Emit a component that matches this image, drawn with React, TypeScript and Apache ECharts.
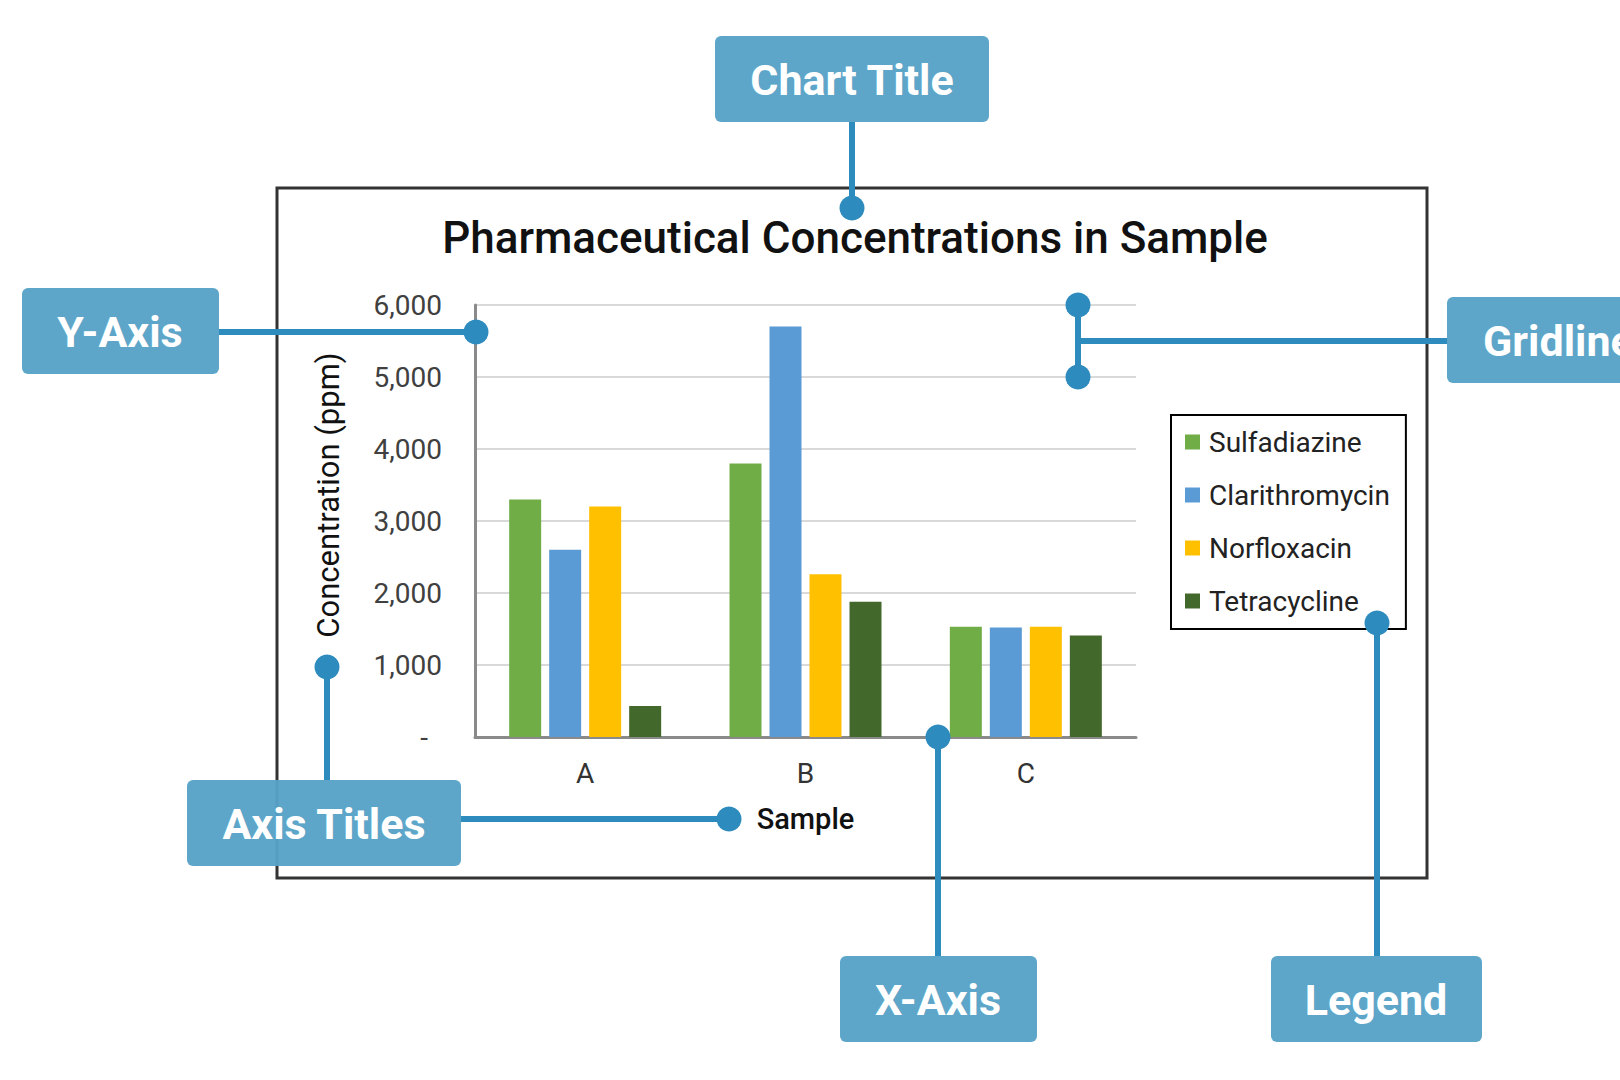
import React, { useEffect, useRef } from "react";
import * as echarts from "echarts";

const categories = ["A", "B", "C"];
const seriesNames = ["Sulfadiazine", "Clarithromycin", "Norfloxacin", "Tetracycline"];
const sulfadiazine = [3300, 3800, 1530];
const clarithromycin = [2600, 5700, 1520];
const norfloxacin = [3200, 2260, 1530];
const tetracycline = [430, 1880, 1410];
const seriesColors = ["#70ad47", "#5b9bd5", "#ffc000", "#43682b"];
const yTicks = { min: 0, max: 6000, interval: 1000 };

const chartTitle = "Pharmaceutical Concentrations in Sample";
const xTitle = "Sample";
const yTitle = "Concentration (ppm)";

const BOX = "#56a2c7";
const LINE = "#2e8bbd";
const FONT = "Roboto, 'Noto Sans', sans-serif";

function callout(x: number, y: number, w: number, h: number, label: string, tx: number, ty: number, align = "center") {
  return [
    {
      type: "rect",
      z: 50,
      shape: { x, y, width: w, height: h, r: 6 },
      style: { fill: BOX, opacity: 0.96 },
    },
    {
      type: "text",
      z: 60,
      x: tx,
      y: ty,
      style: {
        text: label,
        fill: "#ffffff",
        font: `bold 43px ${FONT}`,
        textAlign: align,
        textVerticalAlign: "middle",
      },
    },
  ];
}

function seg(x1: number, y1: number, x2: number, y2: number) {
  return {
    type: "line",
    z: 70,
    shape: { x1, y1, x2, y2 },
    style: { stroke: LINE, lineWidth: 6 },
  };
}

function dot(cx: number, cy: number) {
  return {
    type: "circle",
    z: 80,
    shape: { cx, cy, r: 12.5 },
    style: { fill: LINE },
  };
}

export default function App() {
  const ref = useRef<HTMLDivElement>(null);
  useEffect(() => {
    if (!ref.current) return;
    const chart = echarts.init(ref.current, null, { renderer: "svg" });
    const values = [sulfadiazine, clarithromycin, norfloxacin, tetracycline];
    const graphic: any[] = [
      {
        type: "rect",
        z: 1,
        shape: { x: 277, y: 188, width: 1150, height: 690 },
        style: { fill: "none", stroke: "#333333", lineWidth: 3 },
      },
      ...callout(715, 36, 274, 86, "Chart Title", 852, 80),
      ...callout(22, 288, 197, 86, "Y-Axis", 120, 332),
      ...callout(1447, 297, 260, 86, "Gridlines", 1483, 341, "left"),
      ...callout(187, 780, 274, 86, "Axis Titles", 324, 824),
      ...callout(840, 956, 197, 86, "X-Axis", 938, 1000),
      ...callout(1271, 956, 211, 86, "Legend", 1376, 1000),
      seg(852, 122, 852, 208),
      dot(852, 208),
      seg(219, 332, 476, 332),
      dot(476, 332),
      seg(1078, 305, 1078, 377),
      seg(1078, 341, 1447, 341),
      dot(1078, 305),
      dot(1078, 377),
      seg(327, 667, 327, 780),
      dot(327, 667),
      seg(461, 819, 729, 819),
      dot(729, 819),
      seg(938, 737, 938, 956),
      dot(938, 737),
      seg(1377, 623, 1377, 956),
      dot(1377, 623),
    ];
    chart.setOption({
      animation: false,
      backgroundColor: "#ffffff",
      textStyle: { fontFamily: FONT },
      title: {
        text: chartTitle,
        left: 850,
        top: 211,
        textAlign: "center",
        textStyle: { fontSize: 44, fontWeight: 500, color: "#111111", fontFamily: FONT },
      },
      legend: {
        data: seriesNames,
        orient: "vertical",
        left: 1171,
        top: 415,
        padding: [13, 16, 14, 14],
        borderColor: "#000000",
        borderWidth: 2,
        itemWidth: 15,
        itemHeight: 15,
        itemGap: 25,
        icon: "rect",
        textStyle: { fontSize: 28, color: "#222222", padding: [0, 0, 0, 4], fontFamily: FONT },
      },
      grid: { left: 475, right: 484, top: 305, bottom: 343, containLabel: false },
      xAxis: {
        type: "category",
        data: categories,
        name: xTitle,
        nameLocation: "middle",
        nameGap: 67,
        nameTextStyle: { fontSize: 29, fontWeight: 500, color: "#111111", fontFamily: FONT },
        axisLine: { show: true, lineStyle: { color: "#8a8a8a", width: 3 } },
        axisTick: { show: false },
        axisLabel: { fontSize: 28, color: "#333333", margin: 22, fontFamily: FONT },
      },
      yAxis: {
        type: "value",
        min: yTicks.min,
        max: yTicks.max,
        interval: yTicks.interval,
        name: yTitle,
        nameLocation: "middle",
        nameGap: 131,
        nameTextStyle: { fontSize: 31, color: "#111111", padding: [0, 0, 0, 52], fontFamily: FONT },
        axisLine: { show: true, lineStyle: { color: "#8a8a8a", width: 3 } },
        axisTick: { show: false },
        splitLine: { show: true, lineStyle: { color: "#d9d9d9", width: 2 } },
        axisLabel: {
          fontSize: 28,
          color: "#404040",
          margin: 33,
          fontFamily: FONT,
          formatter: (v: number) => (v === 0 ? "{d|-}" : v.toLocaleString("en-US")),
          rich: { d: { fontSize: 28, color: "#404040", padding: [0, 14, 0, 0] } },
        },
      },
      series: seriesNames.map((name, i) => ({
        name,
        type: "bar",
        data: values[i],
        barWidth: 32,
        barGap: "25%",
        itemStyle: { color: seriesColors[i] },
      })),
      graphic,
    });
    return () => chart.dispose();
  }, []);
  return <div ref={ref} style={{ position: "fixed", left: 0, top: 0, width: 1620, height: 1080 }} />;
}
